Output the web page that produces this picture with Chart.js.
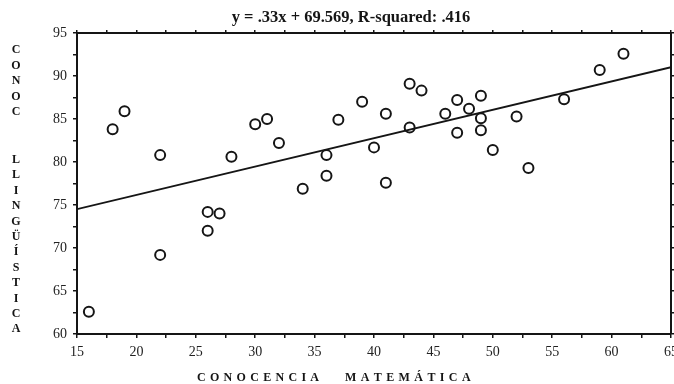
<!DOCTYPE html>
<html>
<head>
<meta charset="utf-8">
<script src="https://cdn.jsdelivr.net/npm/chart.js@4"></script>
<style>
  html, body { margin: 0; padding: 0; background: #fff; }
  #wrap { width: 674px; height: 384px; position: relative; }
</style>
</head>
<body>
<div id="wrap"><canvas id="chart"></canvas></div>
<script>
// ── Data ──
const matScores = [16, 18, 19, 22, 22, 26, 27, 26, 28, 30, 31, 32, 34, 36, 36, 37, 39, 40,
                   41, 41, 43, 43, 44, 46, 47, 47, 48, 49, 49, 49, 50, 52, 53, 56, 59, 61];
const lingScores = [62.6, 83.8, 85.9, 80.8, 69.2, 74.2, 74.0, 72.0, 80.6, 84.4, 85.0, 82.2, 76.9, 80.8, 78.4, 84.9, 87.0, 81.7,
                    85.6, 77.6, 89.1, 84.0, 88.3, 85.6, 87.2, 83.4, 86.2, 87.7, 85.1, 83.7, 81.4, 85.3, 79.3, 87.3, 90.7, 92.6];

// regression line end points (y = .33x + 69.569)
const fitX = [15, 65];
const fitY = [74.52, 91.02];

const xTicks = [15, 20, 25, 30, 35, 40, 45, 50, 55, 60, 65];
const yTicks = [60, 65, 70, 75, 80, 85, 90, 95];

const titleText = 'y = .33x + 69.569, R-squared: .416';
const yTitleParts = ['CONOC', 'LLINGÜÍSTICA'];
const xTitleParts = ['CONOCENCIA', 'MATEMÁTICA'];

const INK = '#151515';
const SERIF = '"Liberation Serif", "Times New Roman", serif';

// ── Helpers ──
// fix the box size of an axis and drop the label overhang padding
function pinSize(prop, val) {
  return scale => {
    scale[prop] = val;
    scale.paddingLeft = 0;
    scale.paddingRight = 0;
    scale.paddingTop = 0;
    scale.paddingBottom = 0;
  };
}

function majorOnly(list) {
  return v => list.includes(v) ? v : '';
}

function axisOpts(pos, min, max, list, showLabels, tickLen, size) {
  return {
    type: 'linear',
    position: pos,
    min: min,
    max: max,
    afterFit: pinSize(pos === 'left' || pos === 'right' ? 'width' : 'height', size),
    border: { display: true, color: INK, width: 2 },
    grid: { display: true, drawOnChartArea: false, drawTicks: true, tickLength: tickLen, color: INK, lineWidth: 1.5 },
    ticks: {
      display: showLabels,
      stepSize: 2.5,
      autoSkip: false,
      maxRotation: 0,
      padding: 6,
      color: '#222',
      font: { family: SERIF, size: 14 },
      callback: majorOnly(list)
    }
  };
}

// spaced capital letters drawn one by one
function drawSpaced(ctx, text, x, y, gap) {
  let cx = x;
  for (const ch of text) {
    ctx.fillText(ch, cx, y);
    cx += ctx.measureText(ch).width + gap;
  }
}

const labelPlugin = {
  id: 'labels',
  afterDraw(chart) {
    const ctx = chart.ctx;
    ctx.save();
    ctx.fillStyle = INK;

    // title
    ctx.font = 'bold 16.5px ' + SERIF;
    ctx.textAlign = 'center';
    ctx.textBaseline = 'alphabetic';
    ctx.fillText(titleText, 351, 22);

    // stacked y-axis title
    ctx.font = 'bold 12px ' + SERIF;
    ctx.textBaseline = 'middle';
    const starts = [50, 160];
    const steps = [15.5, 15.4];
    yTitleParts.forEach((word, w) => {
      [...word].forEach((ch, i) => ctx.fillText(ch, 16, starts[w] + i * steps[w]));
    });

    // spaced x-axis title
    ctx.textAlign = 'left';
    ctx.textBaseline = 'alphabetic';
    drawSpaced(ctx, xTitleParts[0], 197, 381, 4.3);
    drawSpaced(ctx, xTitleParts[1], 345, 381, 4.4);
    ctx.restore();
  }
};

const points = matScores.map((x, i) => ({ x: x, y: lingScores[i] }));
const fitLine = fitX.map((x, i) => ({ x: x, y: fitY[i] }));

new Chart(document.getElementById('chart'), {
  type: 'scatter',
  data: {
    datasets: [
      {
        label: 'Datos',
        data: points,
        pointStyle: 'circle',
        pointRadius: 5,
        pointBorderWidth: 2,
        borderColor: INK,
        backgroundColor: 'rgba(0,0,0,0)'
      },
      {
        type: 'line',
        label: 'Regresión',
        data: fitLine,
        showLine: true,
        pointRadius: 0,
        borderColor: INK,
        borderWidth: 1.8,
        fill: false
      }
    ]
  },
  options: {
    responsive: true,
    maintainAspectRatio: false,
    animation: false,
    layout: { padding: 0, autoPadding: false },
    plugins: {
      legend: { display: false },
      title: { display: false },
      tooltip: { enabled: false }
    },
    scales: {
      x: axisOpts('bottom', 15, 65, xTicks, true, 4, 50),
      y: axisOpts('left', 60, 95, yTicks, true, 4, 77),
      x2: axisOpts('top', 15, 65, xTicks, false, 3, 33),
      y2: axisOpts('right', 60, 95, yTicks, false, 3, 3)
    }
  },
  plugins: [labelPlugin]
});
</script>
</body>
</html>
